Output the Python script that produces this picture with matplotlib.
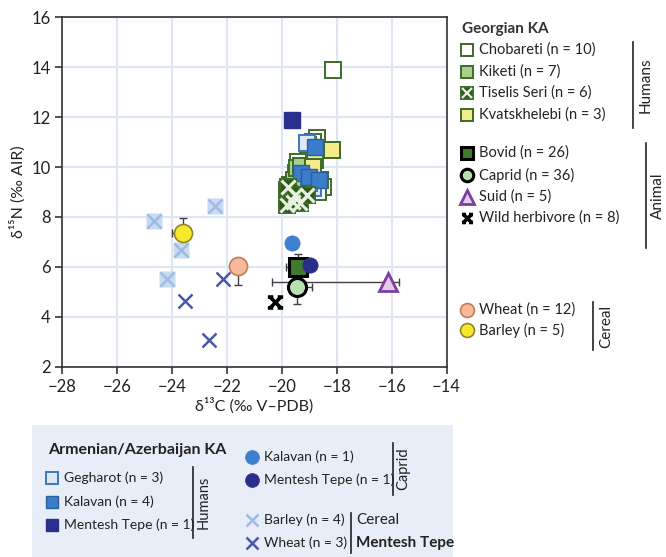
import matplotlib.pyplot as plt
import numpy as np
from matplotlib.path import Path
from matplotlib.patches import Rectangle

plt.rcParams['font.family'] = ['Lato', 'DejaVu Sans']

# Georgian KA humans
chob_x = [-18.13, -18.73, -18.86, -19.05, -19.22, -19.40, -18.49, -18.60, -19.50, -18.70]
chob_y = [13.90, 11.15, 11.00, 10.90, 10.15, 10.20, 9.20, 9.50, 9.75, 9.00]
kik_x = [-19.83, -19.70, -19.55, -19.45, -19.60, -19.30, -19.75]
kik_y = [9.08, 9.30, 9.50, 9.95, 8.70, 10.05, 8.90]
tis_x = [-19.77, -19.52, -19.83, -19.34, -19.10, -19.60]
tis_y = [9.20, 8.88, 8.48, 8.55, 8.88, 8.60]
kva_x = [-18.19, -18.79, -18.85]
kva_y = [10.68, 10.28, 10.00]

# Armenian/Azerbaijan KA humans
geg_x = [-18.86, -19.10, -19.00]
geg_y = [9.15, 10.95, 9.35]
kal_x = [-18.79, -19.30, -19.00, -18.65]
kal_y = [10.81, 9.75, 9.60, 9.50]
mt_x = [-19.62]
mt_y = [11.88]

# Georgian animals (means with errors)
bovid = (-19.40, 6.00)
bovid_xerr = [[0.45], [0.0]]
bovid_yerr = [[0.0], [0.50]]
caprid = (-19.46, 5.18)
caprid_xerr = [[0.0], [0.54]]
caprid_yerr = [[0.67], [0.0]]
suid = (-16.15, 5.40)
suid_xerr = [[4.20], [0.40]]
wild = (-20.25, 4.60)

# Georgian cereals
wheat = (-21.61, 6.04)
wheat_yerr = [[0.77], [0.0]]
barley = (-23.59, 7.34)
barley_xerr = [[0.40], [0.0]]
barley_yerr = [[0.0], [0.63]]

# Armenian/Azerbaijan caprids
cap_kal = (-19.63, 6.94)
cap_mt = (-18.98, 6.07)

# Mentesh Tepe cereals
mtb_x = [-24.66, -22.44, -23.68, -24.20]
mtb_y = [7.85, 8.45, 6.67, 5.50]
mtw_x = [-23.53, -22.13, -22.66]
mtw_y = [4.63, 5.50, 3.05]

xticks = [-28, -26, -24, -22, -20, -18, -16, -14]
yticks = [2, 4, 6, 8, 10, 12, 14, 16]

# serif-like X marker for wild herbivore
wild_marker = Path(
    [(-1, -1), (1, 1), (-1, 1), (1, -1),
     (-1.4, 1), (-0.4, 1), (0.4, 1), (1.4, 1),
     (-1.4, -1), (-0.4, -1), (0.4, -1), (1.4, -1)],
    [Path.MOVETO, Path.LINETO] * 6)

dkg = '#3d6b2a'
ecol = '#404040'

styles = {
    'chob': dict(marker='s', ms=12, mfc='white', mec=dkg, mew=1.4),
    'kik': dict(marker='s', ms=12, mfc='#a9d18e', mec=dkg, mew=1.4),
    'tis': dict(marker='s', ms=12, mfc='#2e5a1c', mec=dkg, mew=1.4),
    'kva': dict(marker='s', ms=12, mfc='#f4ec8a', mec=dkg, mew=1.4),
    'geg': dict(marker='s', ms=12, mfc='#dde8f4', mec='#3a78c0', mew=1.4),
    'kal': dict(marker='s', ms=12, mfc='#3b7dc9', mec='#2c5f9e', mew=1.0),
    'mt': dict(marker='s', ms=12, mfc='#2b2f8c', mec='#2b2f8c', mew=1.0),
    'bovid': dict(marker='s', ms=13, mfc='#3f7a2f', mec='black', mew=2.2),
    'caprid': dict(marker='o', ms=13, mfc='#b9e0b0', mec='black', mew=2.2),
    'suid': dict(marker='^', ms=13, mfc='#e9c8e8', mec='#7b3fa3', mew=2.0),
    'wild': dict(marker=wild_marker, ms=11, mfc='none', mec='black', mew=2.6),
    'wheat': dict(marker='o', ms=13, mfc='#f7b99c', mec='#c47a5a', mew=1.2),
    'barley': dict(marker='o', ms=13, mfc='#f6e92c', mec='#8f8430', mew=1.2),
    'capkal': dict(marker='o', ms=11, mfc='#3d80d0', mec='#3d80d0', mew=0.5),
    'capmt': dict(marker='o', ms=11, mfc='#2a2d8a', mec='#2a2d8a', mew=0.5),
    'mtw': dict(marker='x', ms=10, mfc='none', mec='#4a58a8', mew=1.8),
}

fig = plt.figure(figsize=(6.66, 5.57), dpi=100)
ax = fig.add_axes([62.3 / 666, 1 - 366.7 / 557, (446.6 - 62.3) / 666, (366.7 - 17.3) / 557])
ax.set_xlim(-28, -14)
ax.set_ylim(2, 16)
ax.set_xticks(xticks)
ax.set_yticks(yticks)
ax.set_axisbelow(True)
ax.grid(True, color='#dde6f2', lw=1.5)
for s in ax.spines.values():
    s.set_color('#333333')
    s.set_linewidth(1.2)
ax.tick_params(direction='out', length=5, width=1.2, color='#333333', labelsize=12, labelcolor='#222222')
ax.set_xlabel('δ¹³C (‰ V\u2013PDB)', fontsize=11.5, color='#222222', labelpad=2)
ax.set_ylabel('δ¹⁵N (‰ AIR)', fontsize=11.5, color='#222222', labelpad=4)


def pts(x, y, key, z=3, **kw):
    ax.plot(x, y, ls='none', zorder=z, **styles[key], **kw)


# Mentesh Tepe cereals
ax.plot(mtb_x, mtb_y, ls='none', marker='s', ms=11, mfc='#c9dbf1', mec='none', zorder=2)
ax.plot(mtb_x, mtb_y, ls='none', marker='x', ms=10, mec='#9dbbe4', mew=1.8, zorder=2.1)
pts(mtw_x, mtw_y, 'mtw', z=2.2)

# Georgian cereals
ax.errorbar(*wheat, yerr=wheat_yerr, fmt='none', ecolor=ecol, elinewidth=1, capsize=3, zorder=2.5)
pts([wheat[0]], [wheat[1]], 'wheat')
ax.errorbar(*barley, xerr=barley_xerr, yerr=barley_yerr, fmt='none', ecolor=ecol, elinewidth=1, capsize=3, zorder=2.5)
pts([barley[0]], [barley[1]], 'barley')

# caprids Armenian/Azerbaijan
pts([cap_kal[0]], [cap_kal[1]], 'capkal')

# Georgian animals
ax.errorbar(*suid, xerr=suid_xerr, fmt='none', ecolor=ecol, elinewidth=1, capsize=3, zorder=2.5)
pts([suid[0]], [suid[1]], 'suid')
ax.errorbar(*bovid, xerr=bovid_xerr, yerr=bovid_yerr, fmt='none', ecolor=ecol, elinewidth=1, capsize=3, zorder=2.5)
pts([bovid[0]], [bovid[1]], 'bovid', z=3.2)
pts([cap_mt[0]], [cap_mt[1]], 'capmt', z=3.3)
ax.errorbar(*caprid, xerr=caprid_xerr, yerr=caprid_yerr, fmt='none', ecolor=ecol, elinewidth=1, capsize=3, zorder=3.35)
pts([caprid[0]], [caprid[1]], 'caprid', z=3.4)
pts([wild[0]], [wild[1]], 'wild', z=3.4)

# humans
pts(chob_x, chob_y, 'chob', z=4)
pts(kik_x, kik_y, 'kik', z=4.1)
pts(kva_x, kva_y, 'kva', z=4.2)
pts(geg_x, geg_y, 'geg', z=4.3)
pts(kal_x, kal_y, 'kal', z=4.4)
pts(tis_x, tis_y, 'tis', z=4.5)
ax.plot(tis_x, tis_y, ls='none', marker='x', ms=10, mec='#e8f0e0', mew=2.2, zorder=4.6)
pts(mt_x, mt_y, 'mt', z=4.7)

# ---- legends drawn in pixel space on an overlay axes
lg = fig.add_axes([0, 0, 1, 1], zorder=10)
lg.set_xlim(0, 666)
lg.set_ylim(557, 0)
lg.axis('off')
lg.patch.set_alpha(0)

tc = '#222222'
fs = 10.5
fsb = 10


def item(x, y, key, label, ms=None, extra=None, size=fs):
    st = dict(styles[key])
    if ms:
        st['ms'] = ms
    lg.plot([x], [y], ls='none', **st)
    if extra:
        lg.plot([x], [y], ls='none', **extra)
    lg.text(x + 12, y, label, fontsize=size, color=tc, va='center', ha='left')


def bracket(x, y0, y1, label, tx, size=fs + 0.5):
    lg.plot([x, x], [y0, y1], color='#222222', lw=1.2)
    lg.text(tx, (y0 + y1) / 2, label, rotation=90, fontsize=size, color=tc, va='center', ha='center')


lg.text(462, 29, 'Georgian KA', fontsize=fs + 0.5, fontweight='bold', color='#333333', va='center')
item(467, 50, 'chob', 'Chobareti (n = 10)', ms=9)
item(467, 72, 'kik', 'Kiketi (n = 7)', ms=9)
item(467, 93, 'tis', 'Tiselis Seri (n = 6)', ms=9,
     extra=dict(marker='x', ms=7, mec='#e8f0e0', mew=1.6))
item(467, 115, 'kva', 'Kvatskhelebi (n = 3)', ms=9)
bracket(633, 42, 128, 'Humans', 646)
item(467, 153, 'bovid', 'Bovid (n = 26)', ms=9)
item(467, 175, 'caprid', 'Caprid (n = 36)', ms=9)
item(467, 197, 'suid', 'Suid (n = 5)', ms=10)
item(467, 218, 'wild', 'Wild herbivore (n = 8)', ms=8)
bracket(646, 143, 248, 'Animal', 658)
item(467, 310, 'wheat', 'Wheat (n = 12)', ms=10)
item(467, 330, 'barley', 'Barley (n = 5)', ms=10)
bracket(593, 302, 350, 'Cereal', 606)

lg.add_patch(Rectangle((32, 425), 421, 135, facecolor='#e8eef7', edgecolor='none', zorder=0))
lg.text(48, 450, 'Armenian/Azerbaijan KA', fontsize=fsb + 1.5, fontweight='bold', color=tc, va='center')
item(52, 478, 'geg', 'Gegharot (n = 3)', ms=9, size=fsb)
item(52, 502, 'kal', 'Kalavan (n = 4)', ms=9, size=fsb)
item(52, 525, 'mt', 'Mentesh Tepe (n = 1)', ms=9, size=fsb)
bracket(193, 467, 538, 'Humans', 204, size=fsb + 0.5)
item(252, 457, 'capkal', 'Kalavan (n = 1)', ms=10, size=fsb)
item(252, 480, 'capmt', 'Mentesh Tepe (n = 1)', ms=10, size=fsb)
bracket(393, 443, 495, 'Caprid', 403, size=fsb + 0.5)
lg.plot([252], [520], ls='none', marker='x', ms=9, mec='#9dbbe4', mew=1.8)
lg.text(264, 520, 'Barley (n = 4)', fontsize=fsb, color=tc, va='center')
item(252, 543, 'mtw', 'Wheat (n = 3)', ms=9, size=fsb)
lg.plot([351, 351], [513, 553], color='#222222', lw=1.2)
lg.text(356, 520, 'Cereal', fontsize=fsb + 1, color=tc, va='center')
lg.text(356, 543, 'Mentesh Tepe', fontsize=fsb + 1, fontweight='bold', color=tc, va='center')

fig.savefig('out.png', dpi=100)
